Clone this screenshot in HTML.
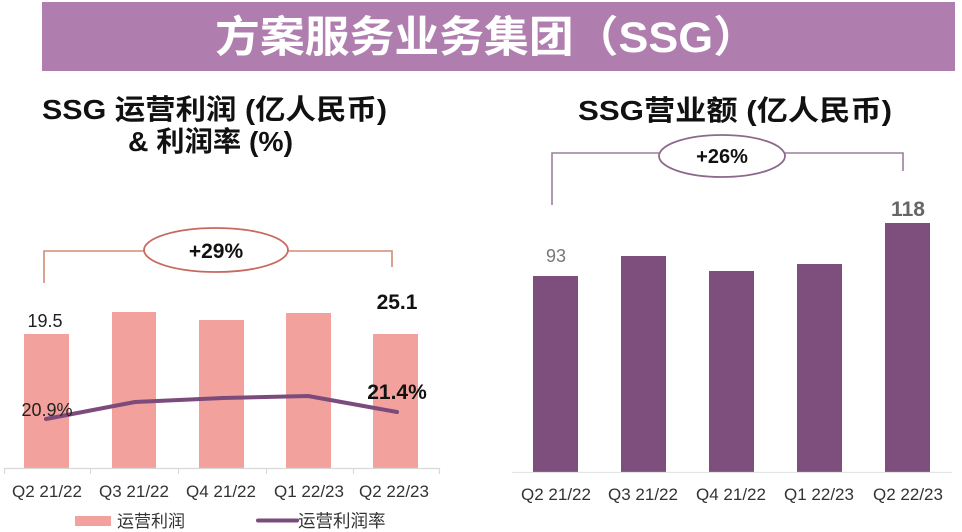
<!DOCTYPE html>
<html>
<head>
<meta charset="utf-8">
<style>
  html,body{margin:0;padding:0;background:#ffffff;}
  svg{display:block;}
  text{font-family:"Liberation Sans","Noto Sans CJK SC",sans-serif;}
</style>
</head>
<body>
<svg width="962" height="532" viewBox="0 0 962 532" xmlns="http://www.w3.org/2000/svg">
  <rect x="0" y="0" width="962" height="532" fill="#ffffff"/>
  <!-- Header band -->
  <rect x="42" y="2" width="913" height="69" fill="#b07eae"/>
  <text x="215" y="52" font-size="43" font-weight="bold" fill="#ffffff" textLength="543" lengthAdjust="spacingAndGlyphs">方案服务业务集团（SSG）</text>

  <!-- Left titles -->
  <text x="42" y="119" font-size="28" font-weight="bold" fill="#111111" textLength="345" lengthAdjust="spacingAndGlyphs">SSG 运营利润 (亿人民币)</text>
  <text x="128" y="151" font-size="28" font-weight="bold" fill="#111111" textLength="165" lengthAdjust="spacingAndGlyphs">&amp; 利润率 (%)</text>

  <!-- Right title -->
  <text x="578" y="120" font-size="28" font-weight="bold" fill="#111111" textLength="314" lengthAdjust="spacingAndGlyphs">SSG营业额 (亿人民币)</text>

  <!-- Left bracket -->
  <polyline points="44,283 44,251 392,251 392,267" fill="none" stroke="#d48a74" stroke-width="1.6"/>
  <ellipse cx="216" cy="250" rx="72" ry="22" fill="#ffffff" stroke="#c8695f" stroke-width="1.8"/>
  <text x="216" y="258" font-size="21" font-weight="bold" fill="#111111" text-anchor="middle">+29%</text>

  <!-- Left bars -->
  <g fill="#f2a19c">
    <rect x="24" y="334" width="45" height="134"/>
    <rect x="112" y="312" width="44" height="156"/>
    <rect x="199" y="320" width="45" height="148"/>
    <rect x="286" y="313" width="45" height="155"/>
    <rect x="373" y="334" width="45" height="134"/>
  </g>
  <!-- Left axis -->
  <line x1="4" y1="468.5" x2="439" y2="468.5" stroke="#d9d9d9" stroke-width="1.2"/>
  <g stroke="#d9d9d9" stroke-width="1.2">
    <line x1="4.5" y1="468" x2="4.5" y2="474"/>
    <line x1="90.5" y1="468" x2="90.5" y2="474"/>
    <line x1="178.5" y1="468" x2="178.5" y2="474"/>
    <line x1="266.5" y1="468" x2="266.5" y2="474"/>
    <line x1="353.5" y1="468" x2="353.5" y2="474"/>
    <line x1="439.5" y1="468" x2="439.5" y2="474"/>
  </g>
  <!-- Left line series -->
  <polyline points="46,419 135,402 223,398 308,396 397,412" fill="none" stroke="#7b4b7b" stroke-width="4" stroke-linejoin="round" stroke-linecap="round"/>

  <!-- Left data labels -->
  <text x="45" y="327" font-size="18" fill="#222222" text-anchor="middle">19.5</text>
  <text x="397" y="309" font-size="21" font-weight="bold" fill="#111111" text-anchor="middle">25.1</text>
  <text x="47" y="416" font-size="18" fill="#222222" text-anchor="middle">20.9%</text>
  <text x="397" y="399" font-size="21" font-weight="bold" fill="#111111" text-anchor="middle">21.4%</text>

  <!-- Left category labels -->
  <g font-size="17" fill="#333333" text-anchor="middle">
    <text x="47" y="497">Q2 21/22</text>
    <text x="134" y="497">Q3 21/22</text>
    <text x="221" y="497">Q4 21/22</text>
    <text x="309" y="497">Q1 22/23</text>
    <text x="394" y="497">Q2 22/23</text>
  </g>

  <!-- Left legend -->
  <rect x="75" y="516" width="36" height="10" fill="#f2a19c"/>
  <text x="117" y="527" font-size="17" fill="#333333">运营利润</text>
  <line x1="258" y1="520.5" x2="297" y2="520.5" stroke="#7b4b7b" stroke-width="4" stroke-linecap="round"/>
  <text x="298" y="527" font-size="17.5" fill="#333333">运营利润率</text>

  <!-- Right bracket -->
  <polyline points="552,205 552,153 903,153 903,171" fill="none" stroke="#9c7f9c" stroke-width="1.6"/>
  <ellipse cx="722" cy="156" rx="63" ry="21" fill="#ffffff" stroke="#8c6a8c" stroke-width="1.8"/>
  <text x="722" y="163" font-size="20" font-weight="bold" fill="#111111" text-anchor="middle">+26%</text>

  <!-- Right bars -->
  <g fill="#7e4e7c">
    <rect x="533" y="276" width="45" height="196"/>
    <rect x="621" y="256" width="45" height="216"/>
    <rect x="709" y="271" width="45" height="201"/>
    <rect x="797" y="264" width="45" height="208"/>
    <rect x="885" y="223" width="45" height="249"/>
  </g>
  <line x1="512" y1="472.5" x2="952" y2="472.5" stroke="#e3e3e3" stroke-width="1.2"/>

  <!-- Right data labels -->
  <text x="556" y="262" font-size="18" fill="#777777" text-anchor="middle">93</text>
  <text x="908" y="216" font-size="21" font-weight="bold" fill="#666666" text-anchor="middle">118</text>

  <!-- Right category labels -->
  <g font-size="17" fill="#333333" text-anchor="middle">
    <text x="556" y="500">Q2 21/22</text>
    <text x="643" y="500">Q3 21/22</text>
    <text x="731" y="500">Q4 21/22</text>
    <text x="819" y="500">Q1 22/23</text>
    <text x="908" y="500">Q2 22/23</text>
  </g>
</svg>
</body>
</html>
